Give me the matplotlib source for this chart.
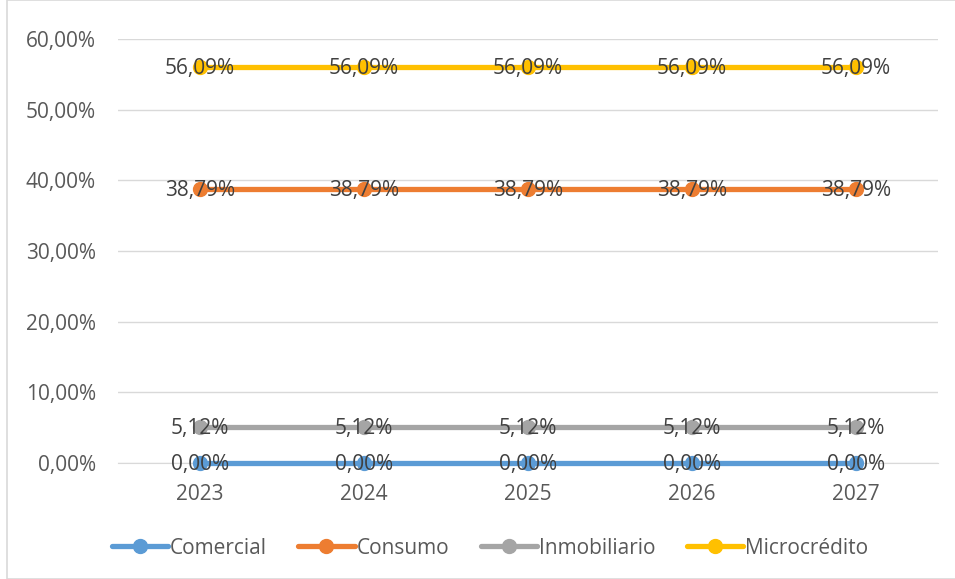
import matplotlib.pyplot as plt
from matplotlib.patches import Rectangle
from matplotlib.ticker import FuncFormatter

years = ["2023", "2024", "2025", "2026", "2027"]
comercial = [0.0, 0.0, 0.0, 0.0, 0.0]
consumo = [0.3879, 0.3879, 0.3879, 0.3879, 0.3879]
inmobiliario = [0.0512, 0.0512, 0.0512, 0.0512, 0.0512]
microcredito = [0.5609, 0.5609, 0.5609, 0.5609, 0.5609]

series = [
    ("Comercial", comercial, "#5b9bd5"),
    ("Consumo", consumo, "#ed7d31"),
    ("Inmobiliario", inmobiliario, "#a5a5a5"),
    ("Microcrédito", microcredito, "#ffc000"),
]

plt.rcParams['font.family'] = ['Open Sans', 'DejaVu Sans']
fs = 15

fig = plt.figure(figsize=(9.55, 5.79), dpi=100)
fig.patches.append(Rectangle((7 / 955, 0.0), 1.0, 1.0, transform=fig.transFigure,
                             fill=False, edgecolor="#d9d9d9", lw=1.2))
ax = fig.add_axes([118 / 955, 1 - 463 / 579, 820 / 955, 424 / 579])

x = range(len(years))
for name, vals, col in series:
    ax.plot(x, vals, color=col, lw=3.8, marker="o", markersize=10, label=name,
            solid_capstyle="round", zorder=3, clip_on=False)
    for xi, v in zip(x, vals):
        ax.text(xi, v - 0.002, f"{v * 100:.2f}%".replace(".", ","), ha="center", va="center",
                fontsize=fs, color="#404040", zorder=4)

ax.set_xlim(-0.5, len(years) - 0.5)
ax.set_ylim(0, 0.6)
ax.set_yticks([0, 0.1, 0.2, 0.3, 0.4, 0.5, 0.6])
ax.yaxis.set_major_formatter(FuncFormatter(lambda v, p: f"{v * 100:.2f}%".replace(".", ",")))
ax.set_xticks(list(x))
ax.set_xticklabels(years)
ax.tick_params(axis="both", length=0, labelsize=fs, labelcolor="#595959")
ax.tick_params(axis="y", pad=16)
ax.tick_params(axis="x", pad=15)
ax.grid(axis="y", color="#d9d9d9", lw=1)
ax.set_axisbelow(True)
for s in ["top", "right", "left"]:
    ax.spines[s].set_visible(False)
ax.spines["bottom"].set_color("#d9d9d9")

fig.legend(loc="center", bbox_to_anchor=(0.513, 1 - 548 / 579), ncol=4, frameon=False,
           fontsize=fs, labelcolor="#595959", handlelength=2.7, handletextpad=0.1,
           columnspacing=1.5)

fig.savefig("out.png", dpi=100)
